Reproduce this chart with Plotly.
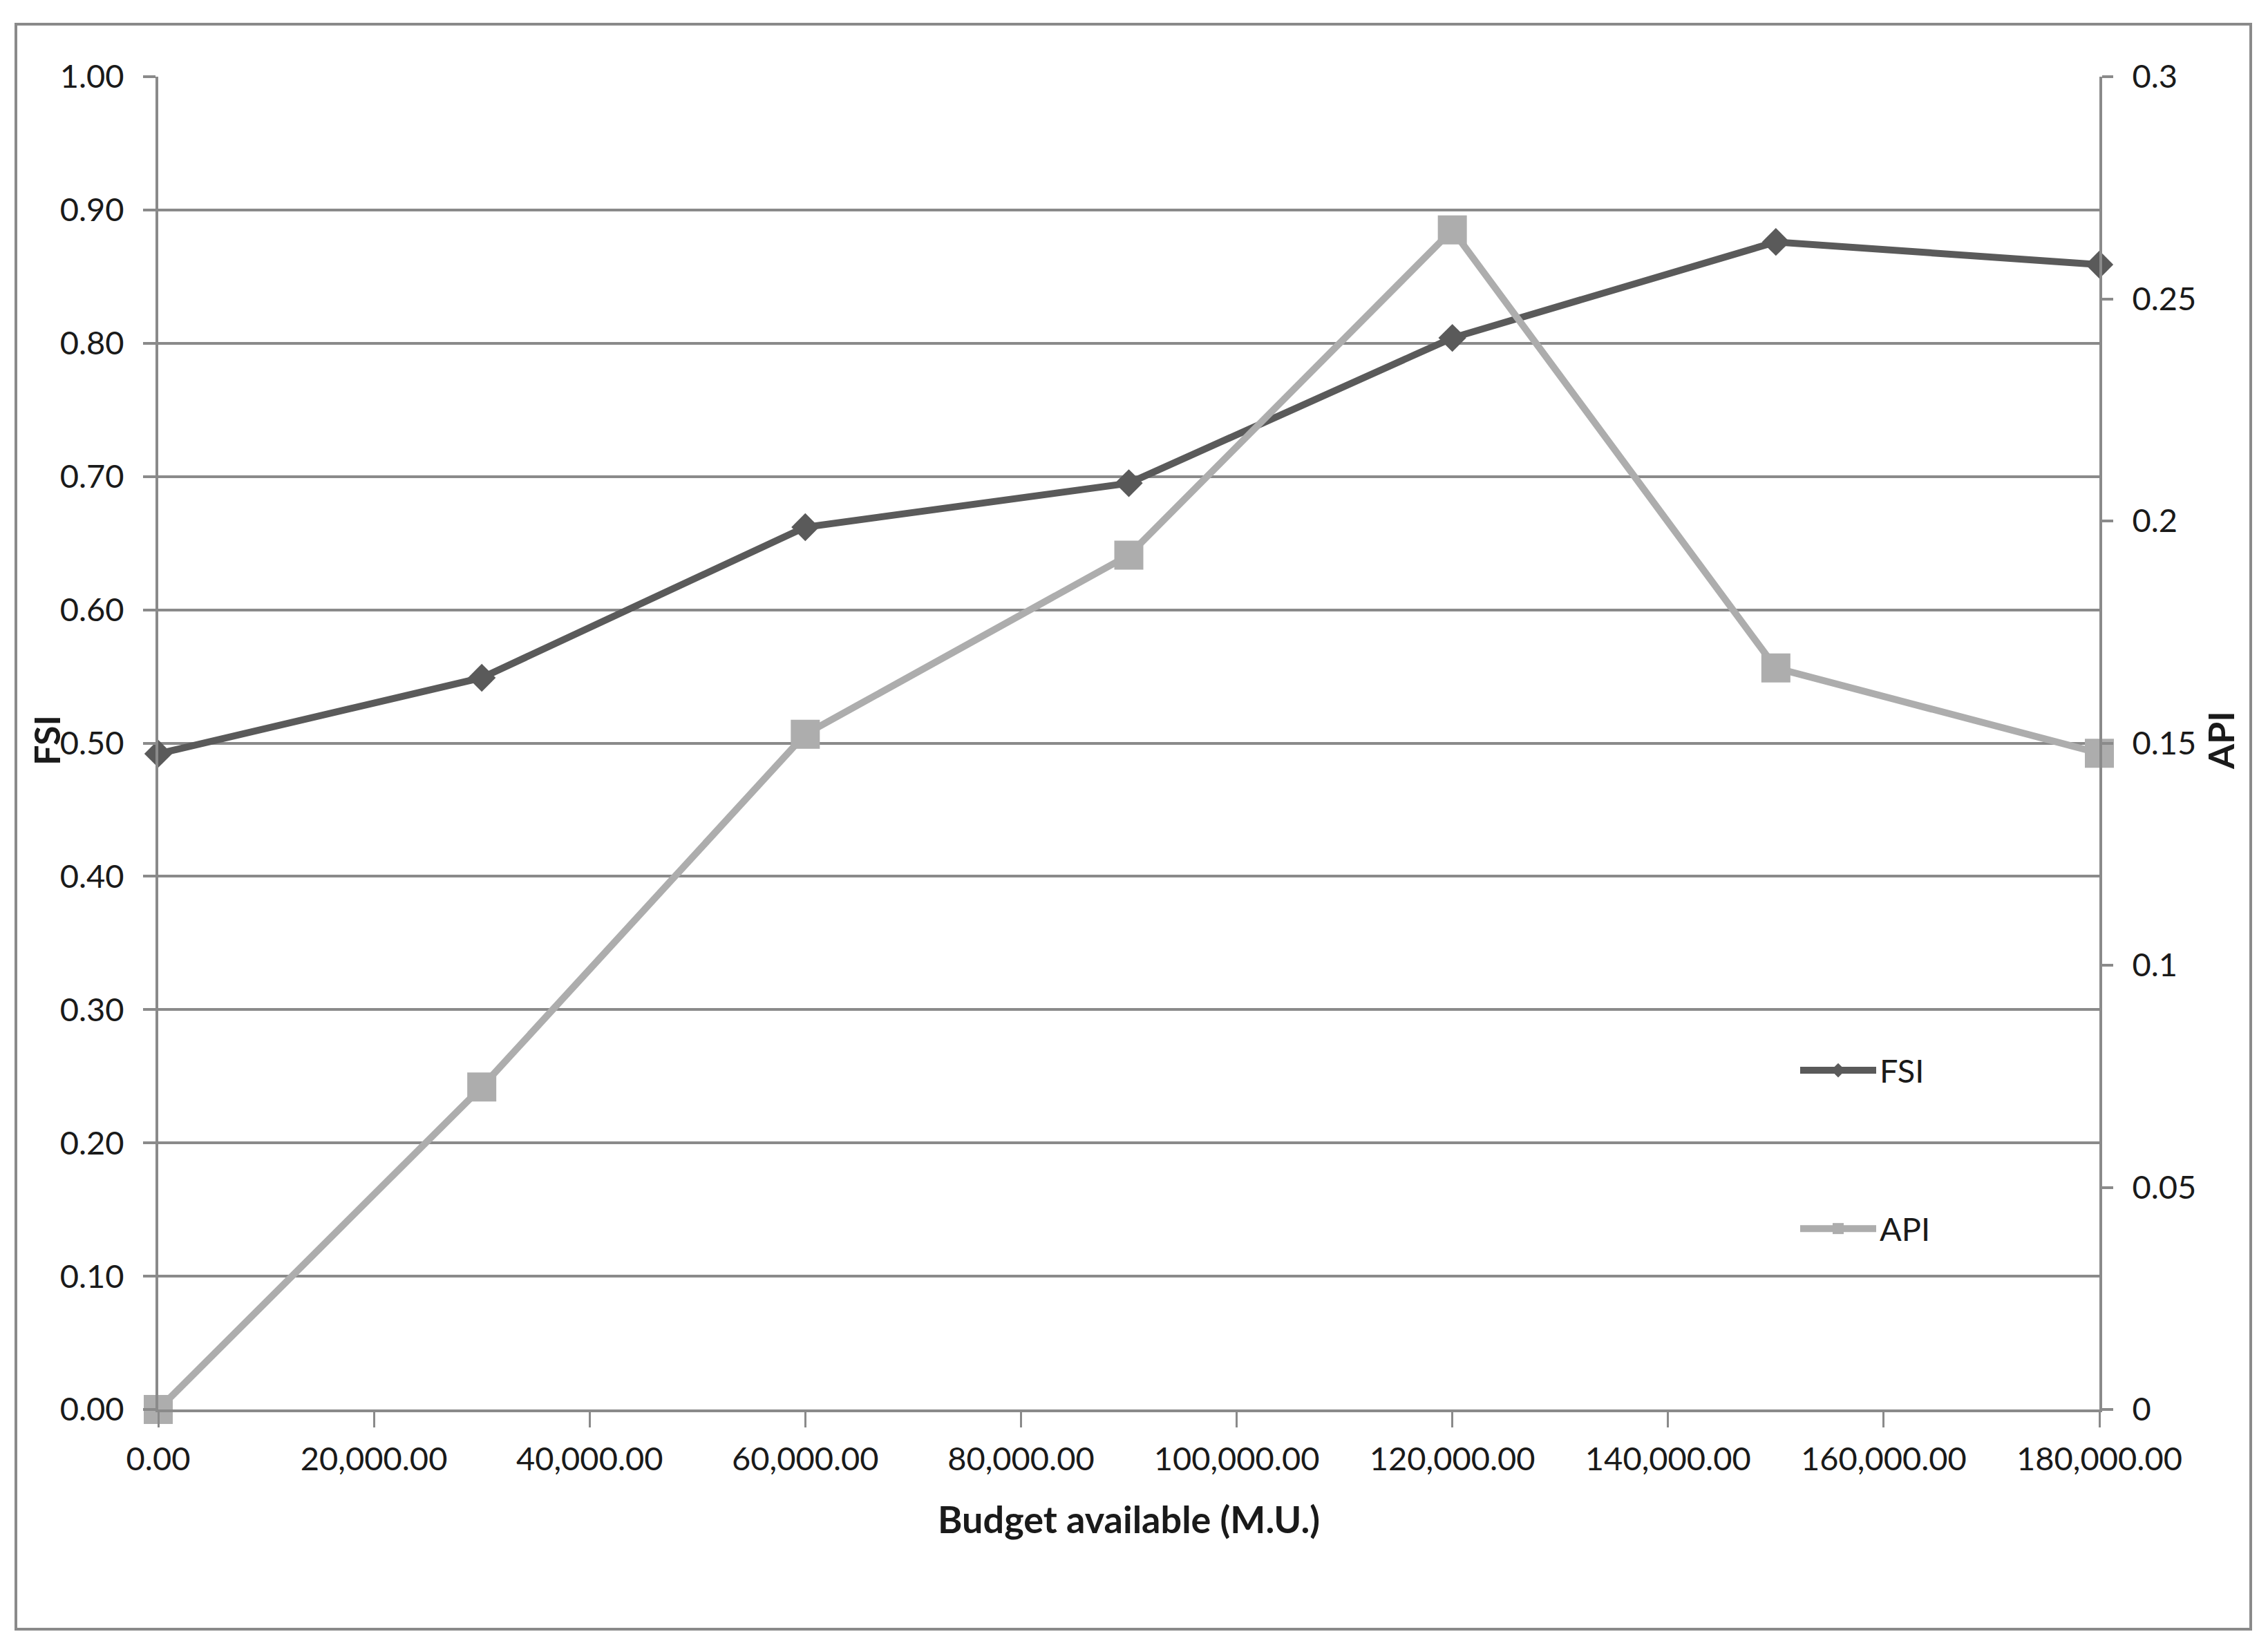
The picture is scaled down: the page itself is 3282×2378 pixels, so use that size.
import plotly.graph_objects as go

budget = [0, 30000, 60000, 90000, 120000, 150000, 180000]
fsi = [0.492, 0.549, 0.662, 0.695, 0.804, 0.876, 0.859]
api = [0.0, 0.0726, 0.152, 0.1923, 0.2655, 0.1669, 0.1477]

x_title = "Budget available (M.U.)"
y_title = "FSI"
y2_title = "API"

W, H = 3282, 2378
L, R, T, B = 229, 3038, 111, 2040
pw, ph = R - L, B - T

def px_x(p):
    return (p - L) / pw

def px_y(p):
    return (B - p) / ph

FONT = "Lato"
GRID = "#8a8a8a"
TXT = "#1a1a1a"

fig = go.Figure()
fig.add_trace(go.Scatter(
    x=budget, y=fsi, name="FSI", mode="lines+markers", legendgroup="a",
    line=dict(color="#5a5a5a", width=10),
    marker=dict(symbol="diamond", size=31, color="#5a5a5a"),
    cliponaxis=False,
))
fig.add_trace(go.Scatter(
    x=budget, y=api, name="API", mode="lines+markers", legendgroup="b",
    yaxis="y2",
    line=dict(color="#adadad", width=10),
    marker=dict(symbol="square", size=42, color="#adadad"),
    cliponaxis=False,
))

fig.update_layout(
    width=W, height=H,
    margin=dict(l=L, r=W - R, t=T, b=H - B, pad=0),
    paper_bgcolor="white", plot_bgcolor="white",
    font=dict(family=FONT, size=47, color=TXT),
    xaxis=dict(
        range=[0, 180000], tickvals=list(range(0, 180001, 20000)),
        tickformat=",.2f", showgrid=False, zeroline=False,
        showline=True, linecolor=GRID, linewidth=4,
        ticks="outside", ticklen=22, tickwidth=3, tickcolor=GRID,
        ticklabelstandoff=6,
        tickfont=dict(family=FONT, size=47, color=TXT),
    ),
    yaxis=dict(
        range=[0, 1], dtick=0.1, tickformat=".2f",
        showgrid=True, gridcolor=GRID, gridwidth=4, zeroline=False,
        showline=True, linecolor=GRID, linewidth=4,
        ticks="outside", ticklen=18, tickwidth=4, tickcolor=GRID,
        ticklabelstandoff=18,
        tickfont=dict(family=FONT, size=47, color=TXT),
    ),
    yaxis2=dict(
        range=[0, 0.3], tickvals=[0, 0.05, 0.1, 0.15, 0.2, 0.25, 0.3],
        ticktext=["0", "0.05", "0.1", "0.15", "0.2", "0.25", "0.3"],
        overlaying="y", side="right", showgrid=False, zeroline=False,
        showline=True, linecolor=GRID, linewidth=4,
        ticks="outside", ticklen=16, tickwidth=4, tickcolor=GRID,
        ticklabelstandoff=18,
        tickfont=dict(family=FONT, size=47, color=TXT),
    ),
    showlegend=True,
    legend=dict(
        x=px_x(2600), y=px_y(1512), xanchor="left", yanchor="top",
        bgcolor="rgba(0,0,0,0)", tracegroupgap=165, itemwidth=110,
        font=dict(family=FONT, size=47, color=TXT),
    ),
)

fig.add_annotation(
    text=f"<b>{x_title}</b>", xref="paper", yref="paper",
    x=px_x(1633), y=px_y(2198), showarrow=False,
    xanchor="center", yanchor="middle",
    font=dict(family=FONT, size=54, color=TXT),
)
fig.add_annotation(
    text=f"<b>{y_title}</b>", xref="paper", yref="paper",
    x=px_x(67), y=px_y(1072), showarrow=False, textangle=-90,
    xanchor="center", yanchor="middle",
    font=dict(family=FONT, size=52, color=TXT),
)
fig.add_annotation(
    text=f"<b>{y2_title}</b>", xref="paper", yref="paper",
    x=px_x(3213), y=px_y(1072), showarrow=False, textangle=-90,
    xanchor="center", yanchor="middle",
    font=dict(family=FONT, size=52, color=TXT),
)

fig.add_shape(
    type="rect", xref="paper", yref="paper",
    x0=px_x(23), x1=px_x(3257), y0=px_y(2358), y1=px_y(35),
    line=dict(color="#8a8a8a", width=4), fillcolor="rgba(0,0,0,0)",
    layer="below",
)

fig.write_html(
    "out.html",
    config={"displayModeBar": False},
    post_script="document.body.style.margin='0px';",
)
